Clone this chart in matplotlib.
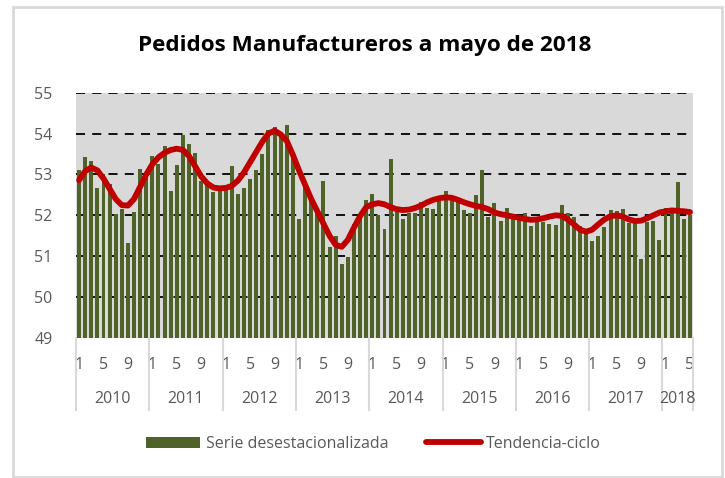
import matplotlib.pyplot as plt
from matplotlib.lines import Line2D
from matplotlib.patches import Rectangle

plt.rcParams["font.family"] = ["Open Sans", "DejaVu Sans"]

YEARS = ["2010", "2011", "2012", "2013", "2014", "2015", "2016", "2017", "2018"]
MONTH_LABELS = ["1", "5", "9"]

serie = [
    53.11, 53.43, 53.33, 52.68, 53.02, 52.76, 52.04, 52.15, 51.32, 52.07, 53.13, 53.00,
    53.44, 53.25, 53.70, 52.60, 53.22, 53.96, 53.75, 53.52, 52.84, 52.85, 52.58, 52.62,
    52.70, 53.20, 52.53, 52.67, 52.88, 53.12, 53.50, 54.08, 54.15, 54.00, 54.20, 53.55,
    51.92, 52.72, 52.42, 52.10, 52.84, 51.22, 51.50, 50.82, 50.97, 51.79, 51.97, 52.37,
    52.51, 52.01, 51.66, 53.38, 52.10, 51.91, 52.05, 52.06, 52.32, 52.18, 52.15, 52.35,
    52.60, 52.43, 52.38, 52.13, 52.06, 52.49, 53.12, 51.95, 52.31, 51.87, 52.17, 51.90,
    51.88, 52.06, 51.74, 51.84, 51.84, 51.78, 51.77, 52.25, 52.06, 51.96, 51.75, 51.62,
    51.37, 51.50, 51.72, 52.13, 52.10, 52.15, 51.82, 51.82, 50.94, 51.84, 51.86, 51.40,
    52.18, 52.17, 52.81, 51.91, 52.00,
]

tendencia = [
    52.86, 53.08, 53.17, 53.10, 52.90, 52.65, 52.40, 52.25, 52.24, 52.40, 52.70, 53.00,
    53.25, 53.42, 53.53, 53.60, 53.63, 53.60, 53.45, 53.20, 52.95, 52.78, 52.68, 52.66,
    52.67, 52.72, 52.85, 53.05, 53.30, 53.55, 53.80, 54.00, 54.07, 53.98, 53.82, 53.48,
    53.10, 52.75, 52.40, 52.10, 51.80, 51.50, 51.28, 51.23, 51.40, 51.70, 51.98, 52.20,
    52.27, 52.30, 52.27, 52.20, 52.15, 52.13, 52.14, 52.18, 52.24, 52.32, 52.38, 52.42,
    52.44, 52.43, 52.38, 52.32, 52.27, 52.23, 52.20, 52.15, 52.07, 52.03, 52.00, 51.97,
    51.94, 51.91, 51.89, 51.90, 51.93, 51.97, 52.00, 51.99, 51.90, 51.78, 51.65, 51.60,
    51.65, 51.78, 51.90, 51.98, 52.00, 51.97, 51.90, 51.86, 51.87, 51.93, 52.00, 52.07,
    52.10, 52.12, 52.11, 52.10, 52.08,
]

n = len(serie)
x = list(range(n))

fig = plt.figure(figsize=(7.25, 4.78), dpi=100)
ax = fig.add_axes([76 / 725, 1 - 338 / 478, 617 / 725, 245.3 / 478])
ax.set_facecolor("#d9d9d9")

bars = ax.bar(x, [v - 49 for v in serie], bottom=49, width=0.65, color="#4f6228",
              zorder=3, label="Serie desestacionalizada")
line, = ax.plot(x, tendencia, color="#c00000", lw=4.2, solid_capstyle="round",
                zorder=4, label="Tendencia-ciclo")

for y in range(50, 56):
    ax.axhline(y, color="black", lw=1.3, ls=(0, (5, 4)), zorder=2)

ax.set_ylim(49, 55)
ax.set_xlim(-0.5, n - 0.5)
ax.set_yticks(range(49, 56))
ax.tick_params(axis="y", length=0, labelsize=11.5, labelcolor="#595959", pad=17)
for s in ax.spines.values():
    s.set_visible(False)

# month ticks 1, 5, 9 in every year
ticks = [m for m in x if m % 12 in (0, 4, 8)]
ax.set_xticks(ticks)
ax.set_xticklabels([MONTH_LABELS[(m % 12) // 4] for m in ticks])
ax.tick_params(axis="x", length=0, labelsize=11.5, labelcolor="#595959", pad=14)

# year separators and labels below the axis
trans = ax.get_xaxis_transform()
bounds = [-0.5 + 12 * k for k in range(len(YEARS))] + [n - 0.5]
for b in bounds:
    ax.add_line(Line2D([b, b], [0, -0.295], transform=trans, color="#d9d9d9",
                       lw=1.5, clip_on=False))
for k, yr in enumerate(YEARS):
    mid = (bounds[k] + bounds[k + 1]) / 2
    ax.text(mid, -0.249, yr, transform=trans, ha="center", va="center",
            fontsize=11.5, color="#595959")

fig.suptitle("Pedidos Manufactureros a mayo de 2018", x=0.503, y=1 - 45 / 478,
             va="center", fontsize=16.2, fontweight="bold")

fig.legend([bars, line], ["Serie desestacionalizada", "Tendencia-ciclo"],
           loc="center", bbox_to_anchor=(0.515, 1 - 444 / 478), ncol=2,
           frameon=False, fontsize=11.5, handlelength=3.4, handleheight=0.7,
           columnspacing=2.4, handletextpad=0.33, labelcolor="#595959")

fig.patches.append(Rectangle((13 / 725, 1 / 478), 709 / 725, 470 / 478,
                             transform=fig.transFigure, fill=False,
                             edgecolor="#d9d9d9", lw=2))

fig.savefig("out.png", dpi=100)
